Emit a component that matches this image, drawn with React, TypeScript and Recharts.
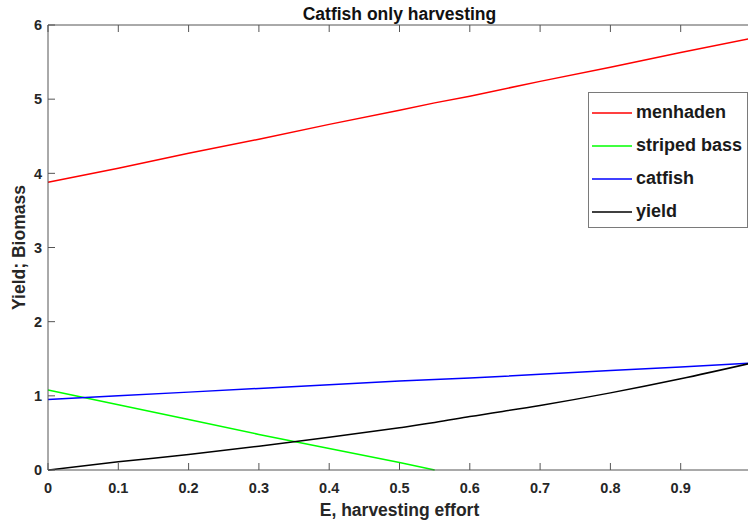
import React from 'react';
import { LineChart, Line, XAxis, YAxis, Legend } from 'recharts';

// harvesting effort E
const effort = [0, 0.1, 0.2, 0.3, 0.4, 0.5, 0.55, 0.6, 0.7, 0.8, 0.9, 1.0];
const menhaden = [3.88, 4.07, 4.27, 4.46, 4.66, 4.85, 4.95, 5.04, 5.24, 5.43, 5.63, 5.82];
const stripedBass = [1.08, 0.88, 0.68, 0.48, 0.29, 0.1, 0, null, null, null, null, null];
const catfish = [0.95, 1.0, 1.05, 1.1, 1.15, 1.2, 1.22, 1.24, 1.29, 1.34, 1.39, 1.44];
const yieldVals = [0, 0.11, 0.21, 0.32, 0.44, 0.57, 0.64, 0.72, 0.87, 1.04, 1.23, 1.44];

const xTicks = [0, 0.1, 0.2, 0.3, 0.4, 0.5, 0.6, 0.7, 0.8, 0.9];
const yTicks = [0, 1, 2, 3, 4, 5, 6];

const series = [
  { key: 'menhaden', name: 'menhaden', color: '#ff0000' },
  { key: 'striped', name: 'striped bass', color: '#00ff00' },
  { key: 'catfish', name: 'catfish', color: '#0000ff' },
  { key: 'yield', name: 'yield', color: '#000000' },
];

const data = effort.map((e, i) => ({
  e,
  menhaden: menhaden[i],
  striped: stripedBass[i],
  catfish: catfish[i],
  yield: yieldVals[i],
}));

const FONT = '"Liberation Sans", Arial, Helvetica, sans-serif';
const AXIS = '#555555';
const TEXT = '#262626';
const TICK_LEN = 7;
const X_MARGIN = 13;
const Y_MARGIN = 6;

const BottomTick = (props: any) => {
  const { x, y, payload } = props;
  const ay = y - X_MARGIN;
  return (
    <g>
      <line x1={x} y1={ay} x2={x} y2={ay - TICK_LEN} stroke={AXIS} strokeWidth={1} />
      <text x={x} y={y} dy="0.71em" textAnchor="middle" fill={TEXT} fontSize={14.5} fontWeight="bold" fontFamily={FONT}>
        {payload.value}
      </text>
    </g>
  );
};

const TopTick = (props: any) => {
  const { x, y } = props;
  const ay = y + 2;
  return <line x1={x} y1={ay} x2={x} y2={ay + TICK_LEN} stroke={AXIS} strokeWidth={1} />;
};

const LeftTick = (props: any) => {
  const { x, y, payload } = props;
  const ax = x + Y_MARGIN;
  return (
    <g>
      <line x1={ax} y1={y} x2={ax + TICK_LEN} y2={y} stroke={AXIS} strokeWidth={1} />
      <text x={x} y={y} dy="0.36em" textAnchor="end" fill={TEXT} fontSize={14.5} fontWeight="bold" fontFamily={FONT}>
        {payload.value}
      </text>
    </g>
  );
};

const LegendBox = () => (
  <div
    style={{
      border: '1px solid #7a7a7a',
      background: '#fff',
      width: 160,
      height: 136,
      boxSizing: 'border-box',
      padding: '3px 0 0 3px',
    }}
  >
    {series.map((s) => (
      <div key={s.key} style={{ display: 'flex', alignItems: 'center', height: 33 }}>
        <svg width={42} height={4} style={{ marginRight: 2 }}>
          <line x1={0} y1={2} x2={40} y2={2} stroke={s.color} strokeWidth={1.5} />
        </svg>
        <span style={{ fontFamily: FONT, fontWeight: 'bold', fontSize: 18, color: '#1a1a1a', whiteSpace: 'nowrap' }}>
          {s.name}
        </span>
      </div>
    ))}
  </div>
);

export default function App() {
  return (
    <div style={{ width: 748, height: 524, overflow: 'hidden', background: '#fff', position: 'relative' }}>
      <style>{'body{margin:0}'}</style>
      <LineChart width={760} height={524} data={data} margin={{ top: 0, right: 9, bottom: 0, left: 0 }}>
        <XAxis
          dataKey="e"
          type="number"
          domain={[0, 1]}
          ticks={xTicks}
          xAxisId="bottom"
          orientation="bottom"
          height={54}
          stroke={AXIS}
          tickSize={0}
          tickMargin={X_MARGIN}
          tick={<BottomTick />}
          label={(p: any) => {
            const vb = p.viewBox;
            return (
              <text x={vb.x + vb.width / 2} y={vb.y + 46} textAnchor="middle" fill={TEXT} fontSize={17.5} fontWeight="bold" fontFamily={FONT}>
                E, harvesting effort
              </text>
            );
          }}
        />
        <XAxis
          dataKey="e"
          type="number"
          domain={[0, 1]}
          ticks={xTicks}
          xAxisId="top"
          orientation="top"
          height={25}
          stroke={AXIS}
          tickSize={0}
          tickMargin={2}
          tick={<TopTick />}
          label={(p: any) => {
            const vb = p.viewBox;
            return (
              <text x={vb.x + vb.width / 2} y={20} textAnchor="middle" fill="#111" fontSize={17.5} fontWeight="bold" fontFamily={FONT}>
                Catfish only harvesting
              </text>
            );
          }}
        />
        <YAxis
          type="number"
          domain={[0, 6]}
          ticks={yTicks}
          width={48}
          stroke={AXIS}
          tickSize={0}
          tickMargin={Y_MARGIN}
          tick={<LeftTick />}
          label={(p: any) => {
            const vb = p.viewBox;
            const cy = vb.y + vb.height / 2;
            return (
              <text x={25} y={cy} transform={`rotate(-90, 25, ${cy})`} textAnchor="middle" fill={TEXT} fontSize={17.5} fontWeight="bold" fontFamily={FONT}>
                Yield; Biomass
              </text>
            );
          }}
        />
        <Legend
          layout="vertical"
          verticalAlign="middle"
          align="center"
          content={<LegendBox />}
          wrapperStyle={{ position: 'absolute', left: 588, top: 92, width: 160, height: 136 }}
        />
        {series.map((s) => (
          <Line
            key={s.key}
            xAxisId="bottom"
            type={s.key === 'yield' ? 'monotone' : 'linear'}
            dataKey={s.key}
            name={s.name}
            stroke={s.color}
            strokeWidth={1.5}
            dot={false}
            isAnimationActive={false}
          />
        ))}
      </LineChart>
    </div>
  );
}
